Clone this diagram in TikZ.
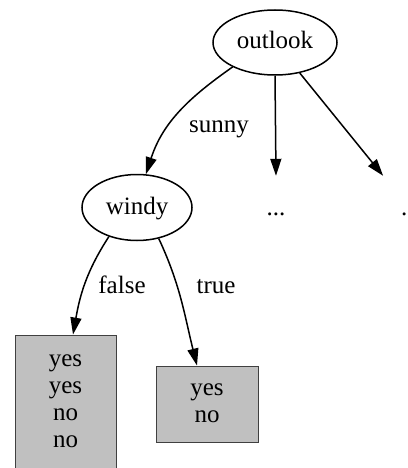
\documentclass[tikz,border=0pt]{standalone}
\usepackage{fontspec}
\setmainfont{Liberation Serif}
\usetikzlibrary{arrows.meta,shapes.geometric}
\definecolor{leafgray}{HTML}{C0C0C0}
\begin{document}
\begin{tikzpicture}[x=1pt,y=1pt,
  every node/.style={font=\fontsize{25}{27}\selectfont, inner sep=0pt},
  txt/.style={text height=17pt, text depth=4pt},
  decision/.style={ellipse, draw, line width=1.5pt, txt},
  leaf/.style={rectangle, draw=black!75, line width=0.9pt, fill=leafgray},
  edgelabel/.style={txt},
  hidden/.style={rectangle, txt, minimum width=60pt, minimum height=66pt},
  arr/.style={line width=1.5pt, -{Triangle[length=17pt,width=11pt]}}
]
\useasboundingbox (0,0) rectangle (407,-468);
\clip (0,0) rectangle (407,-468);

\node[decision, minimum width=124pt, minimum height=65pt] (outlook) at (275,-42.5) {outlook};
\node[decision, minimum width=110pt, minimum height=66pt] (windy) at (137,-207.5) {windy};
\node[hidden] (d1) at (276,-209) {...};
\node[hidden] (d2) at (410,-209) {\makebox[18pt][l]{.}};

\node[leaf, minimum width=101pt, minimum height=134pt] (leaf1) at (65.5,-402)
  {\begin{tabular}{@{}c@{}}yes\\yes\\no\\no\end{tabular}};
\node[leaf, minimum width=102pt, minimum height=76pt] (leaf2) at (207,-404)
  {\begin{tabular}{@{}c@{}}yes\\no\end{tabular}};

\node[edgelabel] (lsunny) at (219,-125.5) {sunny};
\node[edgelabel] (lfalse) at (122,-286.5) {false};
\node[edgelabel] (ltrue) at (216,-286.5) {true};

\draw[arr] (outlook.210) to[out=215,in=72] (windy.75);
\draw[arr] (outlook.south) -- (d1.north);
\draw[arr] (outlook) -- (d2);
\draw[arr] (windy.226) to[out=237,in=80] ([xshift=7.5pt]leaf1.north);
\draw[arr] (windy.305) to[out=295,in=104] ([xshift=-10pt]leaf2.north);
\end{tikzpicture}
\end{document}
